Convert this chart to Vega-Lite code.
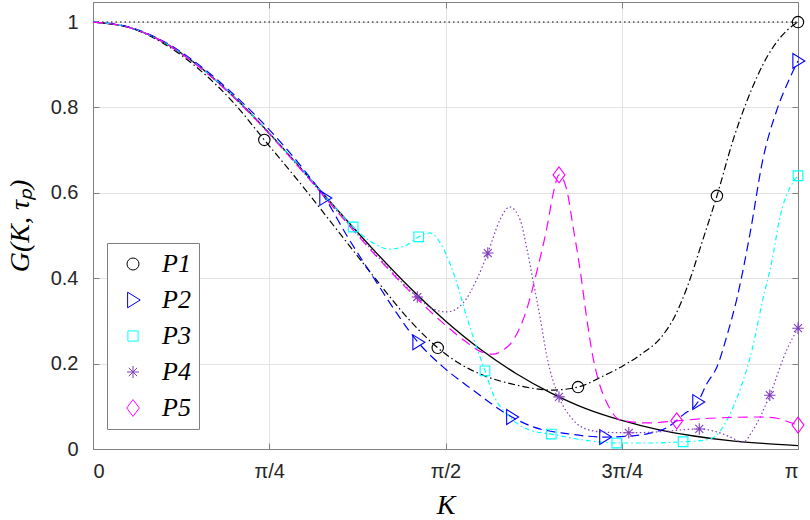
{
  "$schema": "https://vega.github.io/schema/vega-lite/v6.json",
  "width": 705,
  "height": 447,
  "autosize": "none",
  "padding": {"left": 93, "top": 2, "right": 12, "bottom": 71},
  "background": "white",
  "datasets": {
    "one": [{"k": 0, "g": 1}, {"k": 1, "g": 1}],
    "gauss": [
      {"k": 0, "g": 1}, {"k": 0.05, "g": 0.988}, {"k": 0.1, "g": 0.953}, {"k": 0.15, "g": 0.897},
      {"k": 0.2, "g": 0.825}, {"k": 0.25, "g": 0.74}, {"k": 0.3, "g": 0.648}, {"k": 0.35, "g": 0.554},
      {"k": 0.4, "g": 0.463}, {"k": 0.45, "g": 0.377}, {"k": 0.5, "g": 0.3}, {"k": 0.55, "g": 0.233},
      {"k": 0.6, "g": 0.177}, {"k": 0.65, "g": 0.131}, {"k": 0.7, "g": 0.094}, {"k": 0.75, "g": 0.067},
      {"k": 0.8, "g": 0.046}, {"k": 0.85, "g": 0.031}, {"k": 0.9, "g": 0.02}, {"k": 0.95, "g": 0.013},
      {"k": 1, "g": 0.008}
    ],
    "curves": [
      {"s": "P1", "k": 0, "g": 1}, {"s": "P1", "k": 0.05, "g": 0.988}, {"s": "P1", "k": 0.1, "g": 0.95},
      {"s": "P1", "k": 0.15, "g": 0.89}, {"s": "P1", "k": 0.2, "g": 0.81}, {"s": "P1", "k": 0.243, "g": 0.724},
      {"s": "P1", "k": 0.3, "g": 0.61}, {"s": "P1", "k": 0.35, "g": 0.505}, {"s": "P1", "k": 0.4, "g": 0.4},
      {"s": "P1", "k": 0.45, "g": 0.3}, {"s": "P1", "k": 0.489, "g": 0.237}, {"s": "P1", "k": 0.52, "g": 0.2},
      {"s": "P1", "k": 0.55, "g": 0.175}, {"s": "P1", "k": 0.6, "g": 0.15}, {"s": "P1", "k": 0.65, "g": 0.138},
      {"s": "P1", "k": 0.688, "g": 0.145}, {"s": "P1", "k": 0.72, "g": 0.168}, {"s": "P1", "k": 0.752, "g": 0.195},
      {"s": "P1", "k": 0.78, "g": 0.225}, {"s": "P1", "k": 0.804, "g": 0.258}, {"s": "P1", "k": 0.825, "g": 0.31},
      {"s": "P1", "k": 0.843, "g": 0.38}, {"s": "P1", "k": 0.865, "g": 0.49}, {"s": "P1", "k": 0.885, "g": 0.593},
      {"s": "P1", "k": 0.908, "g": 0.724}, {"s": "P1", "k": 0.928, "g": 0.817}, {"s": "P1", "k": 0.956, "g": 0.918},
      {"s": "P1", "k": 0.984, "g": 0.98}, {"s": "P1", "k": 1, "g": 1},

      {"s": "P2", "k": 0, "g": 1}, {"s": "P2", "k": 0.05, "g": 0.989}, {"s": "P2", "k": 0.1, "g": 0.955},
      {"s": "P2", "k": 0.15, "g": 0.9}, {"s": "P2", "k": 0.2, "g": 0.83}, {"s": "P2", "k": 0.25, "g": 0.748},
      {"s": "P2", "k": 0.3, "g": 0.652}, {"s": "P2", "k": 0.329, "g": 0.588}, {"s": "P2", "k": 0.36, "g": 0.5},
      {"s": "P2", "k": 0.4, "g": 0.396}, {"s": "P2", "k": 0.43, "g": 0.32}, {"s": "P2", "k": 0.461, "g": 0.25},
      {"s": "P2", "k": 0.496, "g": 0.193}, {"s": "P2", "k": 0.539, "g": 0.138}, {"s": "P2", "k": 0.594, "g": 0.075},
      {"s": "P2", "k": 0.624, "g": 0.052}, {"s": "P2", "k": 0.672, "g": 0.036}, {"s": "P2", "k": 0.726, "g": 0.028},
      {"s": "P2", "k": 0.76, "g": 0.03}, {"s": "P2", "k": 0.79, "g": 0.037}, {"s": "P2", "k": 0.814, "g": 0.05},
      {"s": "P2", "k": 0.837, "g": 0.08}, {"s": "P2", "k": 0.858, "g": 0.11}, {"s": "P2", "k": 0.871, "g": 0.154},
      {"s": "P2", "k": 0.885, "g": 0.192}, {"s": "P2", "k": 0.9, "g": 0.27}, {"s": "P2", "k": 0.913, "g": 0.35},
      {"s": "P2", "k": 0.932, "g": 0.505}, {"s": "P2", "k": 0.95, "g": 0.677}, {"s": "P2", "k": 0.97, "g": 0.794},
      {"s": "P2", "k": 0.989, "g": 0.871}, {"s": "P2", "k": 1, "g": 0.909},

      {"s": "P3", "k": 0, "g": 1}, {"s": "P3", "k": 0.05, "g": 0.988}, {"s": "P3", "k": 0.1, "g": 0.953},
      {"s": "P3", "k": 0.15, "g": 0.897}, {"s": "P3", "k": 0.2, "g": 0.825}, {"s": "P3", "k": 0.25, "g": 0.74},
      {"s": "P3", "k": 0.3, "g": 0.648}, {"s": "P3", "k": 0.34, "g": 0.572}, {"s": "P3", "k": 0.369, "g": 0.52},
      {"s": "P3", "k": 0.395, "g": 0.485}, {"s": "P3", "k": 0.421, "g": 0.468}, {"s": "P3", "k": 0.445, "g": 0.478},
      {"s": "P3", "k": 0.462, "g": 0.497}, {"s": "P3", "k": 0.478, "g": 0.506}, {"s": "P3", "k": 0.496, "g": 0.473},
      {"s": "P3", "k": 0.516, "g": 0.389}, {"s": "P3", "k": 0.53, "g": 0.31}, {"s": "P3", "k": 0.544, "g": 0.239},
      {"s": "P3", "k": 0.556, "g": 0.183}, {"s": "P3", "k": 0.567, "g": 0.131}, {"s": "P3", "k": 0.591, "g": 0.075},
      {"s": "P3", "k": 0.62, "g": 0.044}, {"s": "P3", "k": 0.65, "g": 0.035}, {"s": "P3", "k": 0.7, "g": 0.02},
      {"s": "P3", "k": 0.743, "g": 0.014}, {"s": "P3", "k": 0.79, "g": 0.014}, {"s": "P3", "k": 0.837, "g": 0.017},
      {"s": "P3", "k": 0.865, "g": 0.02}, {"s": "P3", "k": 0.88, "g": 0.027}, {"s": "P3", "k": 0.9, "g": 0.07},
      {"s": "P3", "k": 0.918, "g": 0.14}, {"s": "P3", "k": 0.936, "g": 0.24}, {"s": "P3", "k": 0.95, "g": 0.35},
      {"s": "P3", "k": 0.963, "g": 0.44}, {"s": "P3", "k": 0.974, "g": 0.54}, {"s": "P3", "k": 0.993, "g": 0.625},
      {"s": "P3", "k": 1, "g": 0.64},

      {"s": "P4", "k": 0, "g": 1}, {"s": "P4", "k": 0.05, "g": 0.988}, {"s": "P4", "k": 0.1, "g": 0.953},
      {"s": "P4", "k": 0.15, "g": 0.896}, {"s": "P4", "k": 0.2, "g": 0.823}, {"s": "P4", "k": 0.25, "g": 0.738},
      {"s": "P4", "k": 0.3, "g": 0.645}, {"s": "P4", "k": 0.35, "g": 0.55}, {"s": "P4", "k": 0.4, "g": 0.458},
      {"s": "P4", "k": 0.46, "g": 0.356}, {"s": "P4", "k": 0.48, "g": 0.33}, {"s": "P4", "k": 0.502, "g": 0.321},
      {"s": "P4", "k": 0.525, "g": 0.342}, {"s": "P4", "k": 0.544, "g": 0.396}, {"s": "P4", "k": 0.56, "g": 0.459},
      {"s": "P4", "k": 0.577, "g": 0.536}, {"s": "P4", "k": 0.591, "g": 0.567}, {"s": "P4", "k": 0.606, "g": 0.536},
      {"s": "P4", "k": 0.615, "g": 0.473}, {"s": "P4", "k": 0.624, "g": 0.396}, {"s": "P4", "k": 0.634, "g": 0.31},
      {"s": "P4", "k": 0.644, "g": 0.215}, {"s": "P4", "k": 0.661, "g": 0.122}, {"s": "P4", "k": 0.681, "g": 0.068},
      {"s": "P4", "k": 0.705, "g": 0.044}, {"s": "P4", "k": 0.73, "g": 0.039}, {"s": "P4", "k": 0.76, "g": 0.038},
      {"s": "P4", "k": 0.8, "g": 0.04}, {"s": "P4", "k": 0.86, "g": 0.047}, {"s": "P4", "k": 0.885, "g": 0.04},
      {"s": "P4", "k": 0.904, "g": 0.028}, {"s": "P4", "k": 0.922, "g": 0.016}, {"s": "P4", "k": 0.936, "g": 0.044},
      {"s": "P4", "k": 0.96, "g": 0.126}, {"s": "P4", "k": 0.984, "g": 0.232}, {"s": "P4", "k": 1, "g": 0.283},

      {"s": "P5", "k": 0, "g": 1}, {"s": "P5", "k": 0.05, "g": 0.988}, {"s": "P5", "k": 0.1, "g": 0.953},
      {"s": "P5", "k": 0.15, "g": 0.896}, {"s": "P5", "k": 0.2, "g": 0.823}, {"s": "P5", "k": 0.25, "g": 0.738},
      {"s": "P5", "k": 0.3, "g": 0.645}, {"s": "P5", "k": 0.35, "g": 0.549}, {"s": "P5", "k": 0.4, "g": 0.455},
      {"s": "P5", "k": 0.45, "g": 0.368}, {"s": "P5", "k": 0.5, "g": 0.29}, {"s": "P5", "k": 0.53, "g": 0.25},
      {"s": "P5", "k": 0.55, "g": 0.228}, {"s": "P5", "k": 0.567, "g": 0.222}, {"s": "P5", "k": 0.58, "g": 0.23},
      {"s": "P5", "k": 0.596, "g": 0.255}, {"s": "P5", "k": 0.615, "g": 0.326}, {"s": "P5", "k": 0.63, "g": 0.419},
      {"s": "P5", "k": 0.644, "g": 0.52}, {"s": "P5", "k": 0.653, "g": 0.6}, {"s": "P5", "k": 0.661, "g": 0.642},
      {"s": "P5", "k": 0.672, "g": 0.607}, {"s": "P5", "k": 0.681, "g": 0.52}, {"s": "P5", "k": 0.691, "g": 0.419},
      {"s": "P5", "k": 0.7, "g": 0.31}, {"s": "P5", "k": 0.708, "g": 0.225}, {"s": "P5", "k": 0.717, "g": 0.16},
      {"s": "P5", "k": 0.729, "g": 0.108}, {"s": "P5", "k": 0.748, "g": 0.068}, {"s": "P5", "k": 0.786, "g": 0.061},
      {"s": "P5", "k": 0.828, "g": 0.066}, {"s": "P5", "k": 0.875, "g": 0.072}, {"s": "P5", "k": 0.946, "g": 0.075},
      {"s": "P5", "k": 0.97, "g": 0.072}, {"s": "P5", "k": 0.989, "g": 0.062}, {"s": "P5", "k": 1, "g": 0.056}
    ],
    "markers": [
      {"s": "P1", "k": 0.243, "g": 0.724}, {"s": "P1", "k": 0.489, "g": 0.237}, {"s": "P1", "k": 0.688, "g": 0.145},
      {"s": "P1", "k": 0.885, "g": 0.593}, {"s": "P1", "k": 1, "g": 1},
      {"s": "P2", "k": 0.329, "g": 0.588}, {"s": "P2", "k": 0.461, "g": 0.25}, {"s": "P2", "k": 0.594, "g": 0.075},
      {"s": "P2", "k": 0.726, "g": 0.028}, {"s": "P2", "k": 0.858, "g": 0.11}, {"s": "P2", "k": 1, "g": 0.909},
      {"s": "P3", "k": 0.369, "g": 0.52}, {"s": "P3", "k": 0.462, "g": 0.497}, {"s": "P3", "k": 0.556, "g": 0.183},
      {"s": "P3", "k": 0.65, "g": 0.035}, {"s": "P3", "k": 0.743, "g": 0.014}, {"s": "P3", "k": 0.837, "g": 0.017},
      {"s": "P3", "k": 1, "g": 0.64},
      {"s": "P4", "k": 0.46, "g": 0.356}, {"s": "P4", "k": 0.56, "g": 0.459}, {"s": "P4", "k": 0.661, "g": 0.122},
      {"s": "P4", "k": 0.76, "g": 0.038}, {"s": "P4", "k": 0.86, "g": 0.047}, {"s": "P4", "k": 0.96, "g": 0.126},
      {"s": "P4", "k": 1, "g": 0.283},
      {"s": "P5", "k": 0.661, "g": 0.642}, {"s": "P5", "k": 0.828, "g": 0.066}, {"s": "P5", "k": 1, "g": 0.056}
    ]
  },
  "layer": [
    {
      "data": {"name": "one"},
      "mark": {"type": "line", "color": "black", "strokeWidth": 1.1, "strokeDash": [1.5, 3]},
      "encoding": {
        "x": {
          "field": "k", "type": "quantitative", "scale": {"domain": [0, 1], "nice": false},
          "axis": {
            "values": [0, 0.25, 0.5, 0.75, 1],
            "labelExpr": "datum.value == 0 ? '0' : datum.value == 0.25 ? 'π/4' : datum.value == 0.5 ? 'π/2' : datum.value == 0.75 ? '3π/4' : 'π'",
            "title": "K", "labelPadding": 18, "titlePadding": 10
          }
        },
        "y": {
          "field": "g", "type": "quantitative", "scale": {"domain": [0, 1.047], "nice": false},
          "axis": {
            "values": [0, 0.2, 0.4, 0.6, 0.8, 1], "format": "~g",
            "title": "G(K, τₚ)", "labelPadding": 21, "titlePadding": 16
          }
        }
      }
    },
    {
      "data": {"name": "gauss"},
      "mark": {"type": "line", "color": "black", "strokeWidth": 1.3, "interpolate": "monotone"},
      "encoding": {
        "x": {"field": "k", "type": "quantitative",
          "axis": {"orient": "top", "values": [0, 0.25, 0.5, 0.75, 1], "labels": false, "grid": false, "title": null, "tickSize": -6}},
        "y": {"field": "g", "type": "quantitative",
          "axis": {"orient": "right", "values": [0, 0.2, 0.4, 0.6, 0.8, 1], "labels": false, "grid": false, "title": null, "tickSize": -6}}
      }
    },
    {
      "data": {"name": "curves"},
      "transform": [{"filter": "datum.s === 'P1'"}],
      "mark": {"type": "line", "color": "#000000", "strokeWidth": 1.2, "interpolate": "monotone", "strokeDash": [7, 3, 1.5, 3]},
      "encoding": {
        "x": {"field": "k", "type": "quantitative", "axis": null},
        "y": {"field": "g", "type": "quantitative", "axis": null}
      }
    },
    {
      "data": {"name": "curves"},
      "transform": [{"filter": "datum.s === 'P2'"}],
      "mark": {"type": "line", "color": "#0000ff", "strokeWidth": 1.2, "interpolate": "monotone", "strokeDash": [9, 5]},
      "encoding": {
        "x": {"field": "k", "type": "quantitative", "axis": null},
        "y": {"field": "g", "type": "quantitative", "axis": null}
      }
    },
    {
      "data": {"name": "curves"},
      "transform": [{"filter": "datum.s === 'P3'"}],
      "mark": {"type": "line", "color": "#00ffff", "strokeWidth": 1.2, "interpolate": "monotone", "strokeDash": [5, 3, 1.5, 3]},
      "encoding": {
        "x": {"field": "k", "type": "quantitative", "axis": null},
        "y": {"field": "g", "type": "quantitative", "axis": null}
      }
    },
    {
      "data": {"name": "curves"},
      "transform": [{"filter": "datum.s === 'P4'"}],
      "mark": {"type": "line", "color": "#7f3fbf", "strokeWidth": 1.2, "interpolate": "monotone", "strokeDash": [1.5, 2.5]},
      "encoding": {
        "x": {"field": "k", "type": "quantitative", "axis": null},
        "y": {"field": "g", "type": "quantitative", "axis": null}
      }
    },
    {
      "data": {"name": "curves"},
      "transform": [{"filter": "datum.s === 'P5'"}],
      "mark": {"type": "line", "color": "#ff00ff", "strokeWidth": 1.2, "interpolate": "monotone", "strokeDash": [10, 6]},
      "encoding": {
        "x": {"field": "k", "type": "quantitative", "axis": null},
        "y": {"field": "g", "type": "quantitative", "axis": null}
      }
    },
    {
      "data": {"name": "markers"},
      "mark": {"type": "point", "filled": false, "size": 130, "strokeWidth": 1.1, "opacity": 1},
      "encoding": {
        "x": {"field": "k", "type": "quantitative", "axis": null},
        "y": {"field": "g", "type": "quantitative", "axis": null},
        "color": {
          "field": "s", "type": "nominal",
          "scale": {"domain": ["P1", "P2", "P3", "P4", "P5"], "range": ["#000000", "#0000ff", "#00ffff", "#7f3fbf", "#ff00ff"]},
          "legend": {
            "orient": "none", "legendX": 14, "legendY": 241, "title": null,
            "fillColor": "white", "strokeColor": "#808080", "padding": 8, "symbolOffset": 5,
            "labelFont": "Liberation Serif", "labelFontStyle": "italic", "labelFontWeight": "normal", "labelFontSize": 26, "labelColor": "black",
            "labelOffset": 16, "rowPadding": 10, "symbolSize": 144, "symbolStrokeWidth": 1
          }
        },
        "shape": {
          "field": "s", "type": "nominal",
          "scale": {"domain": ["P1", "P2", "P3", "P4", "P5"], "range": ["circle", "M-0.9,-1.3L1.2,0L-0.9,1.3Z", "M-0.85,-0.85L0.85,-0.85L0.85,0.85L-0.85,0.85Z", "M-1,0L1,0M0,-1L0,1M-0.7,-0.7L0.7,0.7M-0.7,0.7L0.7,-0.7", "M0,-1.4L1.05,0L0,1.4L-1.05,0Z"]},
          "legend": {
            "orient": "none", "legendX": 14, "legendY": 241, "title": null,
            "fillColor": "white", "strokeColor": "#808080", "padding": 8, "symbolOffset": 5,
            "labelFont": "Liberation Serif", "labelFontStyle": "italic", "labelFontWeight": "normal", "labelFontSize": 26, "labelColor": "black",
            "labelOffset": 16, "rowPadding": 10, "symbolSize": 144, "symbolStrokeWidth": 1
          }
        }
      }
    }
  ],
  "resolve": {"axis": {"x": "independent", "y": "independent"}},
  "config": {
    "view": {"stroke": "#808080", "strokeWidth": 1},
    "axis": {
      "labelFont": "Liberation Sans", "labelFontSize": 20, "labelColor": "#262626",
      "titleFont": "Liberation Serif", "titleFontStyle": "italic", "titleFontWeight": "normal", "titleFontSize": 28, "titleColor": "black",
      "domainColor": "#808080", "tickColor": "#808080", "tickSize": -6,
      "gridColor": "#e3e3e3", "gridWidth": 1
    }
  }
}
